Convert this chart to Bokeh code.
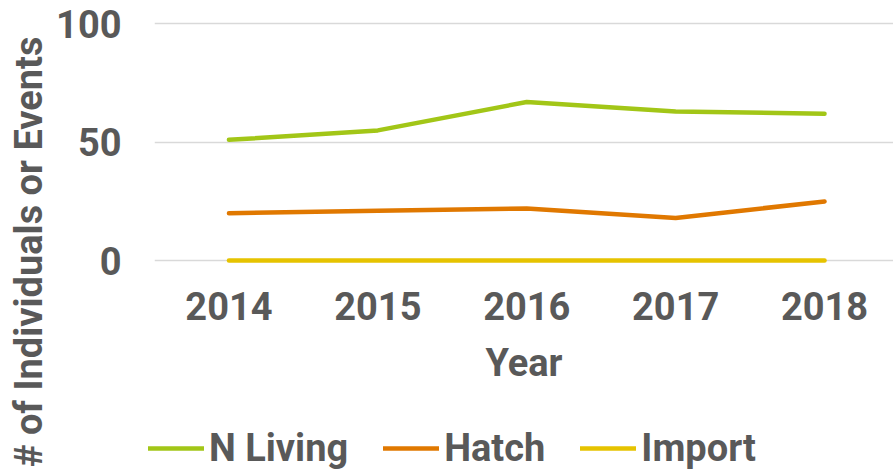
import math
from bokeh.plotting import figure
from bokeh.models import (Range1d, FixedTicker, Legend, LegendItem, Label)
from bokeh.layouts import row, column
from bokeh.embed import file_html
from bokeh.resources import INLINE

# ---- data ----
years = [2014, 2015, 2016, 2017, 2018]
year_labels = ["2014", "2015", "2016", "2017", "2018"]
n_living = [51, 55, 67, 63, 62]
hatch = [20, 21, 22, 18, 25]
import_ = [0, 0, 0, 0, 0]
series_names = ["N Living", "Hatch", "Import"]
y_ticks = [0, 50, 100]
y_title = "# of Individuals or Events"
x_title = "Year"

colors = ["#A2C617", "#E07800", "#E6C300"]
TEXT = "#595959"
FONT = "Roboto"
FS = "38px"

LEFT_W = 50
MAIN_W = 893 - LEFT_W
MAIN_BOTTOM = 150
LEG_H = 470 - (21 + 245 + MAIN_BOTTOM)

series = [n_living, hatch, import_]


def bare(fig):
    fig.axis.visible = False
    fig.grid.visible = False
    fig.outline_line_color = None


# ---- narrow strip holding the y axis title ----
t = figure(frame_width=LEFT_W, frame_height=470, output_backend="svg", toolbar_location=None,
           x_range=Range1d(0, LEFT_W), y_range=Range1d(0, 470), min_border=0)
bare(t)
t.add_layout(Label(x=28, y=434, text=y_title, angle=math.pi / 2,
                   text_align="right", text_baseline="alphabetic",
                   text_font=FONT, text_font_style="bold",
                   text_font_size=FS, text_color=TEXT))

# ---- main chart ----
p = figure(frame_width=739, frame_height=245, output_backend="svg", toolbar_location=None,
           x_range=Range1d(2013.5, 2013.5 + 739 / 148.9),
           y_range=Range1d(-2.5, 101),
           min_border_left=154 - LEFT_W, min_border_right=0,
           min_border_top=21, min_border_bottom=MAIN_BOTTOM)
p.outline_line_color = None

for vals, col in zip(series, colors):
    p.line(years, vals, line_color=col, line_width=4.5,
           line_cap="round", line_join="round")

p.xaxis.ticker = FixedTicker(ticks=years)
p.xaxis.major_label_overrides = {y: l for y, l in zip(years, year_labels)}
p.yaxis.ticker = FixedTicker(ticks=y_ticks)
for ax in (p.xaxis, p.yaxis):
    ax.axis_line_color = None
    ax.major_tick_line_color = None
    ax.minor_tick_line_color = None
    ax.major_tick_out = 0
    ax.major_tick_in = 0
    ax.major_label_text_font = FONT
    ax.major_label_text_font_style = "bold"
    ax.major_label_text_font_size = FS
    ax.major_label_text_color = TEXT
p.yaxis.major_label_standoff = 33
p.xaxis.major_label_standoff = 25
p.xaxis.axis_label = x_title
p.xaxis.axis_label_standoff = 18
p.xaxis.axis_label_text_font = FONT
p.xaxis.axis_label_text_font_style = "bold"
p.xaxis.axis_label_text_font_size = FS
p.xaxis.axis_label_text_color = TEXT

p.xgrid.grid_line_color = None
p.ygrid.grid_line_color = "#D9D9D9"
p.ygrid.grid_line_width = 1.5

# ---- legend strip (swatch renderers carry the same series, out of view) ----
lf = figure(frame_width=MAIN_W, frame_height=LEG_H, output_backend="svg", toolbar_location=None,
            x_range=Range1d(0, 1), y_range=Range1d(0, 1), min_border=0)
bare(lf)
swatches = [lf.line(years, vals, line_color=col, line_width=4.5, line_cap="round")
            for vals, col in zip(series, colors)]
legend = Legend(items=[LegendItem(label=n, renderers=[r]) for n, r in zip(series_names, swatches)],
                orientation="horizontal", location=(98, 0),
                glyph_width=56, label_standoff=5, spacing=35, padding=0, margin=0,
                border_line_color=None, background_fill_alpha=0,
                label_text_font=FONT, label_text_font_style="bold",
                label_text_font_size=FS, label_text_color=TEXT)
lf.add_layout(legend)

layout = row(t, column(p, lf))
open("out.html", "w").write(file_html(layout, INLINE))
